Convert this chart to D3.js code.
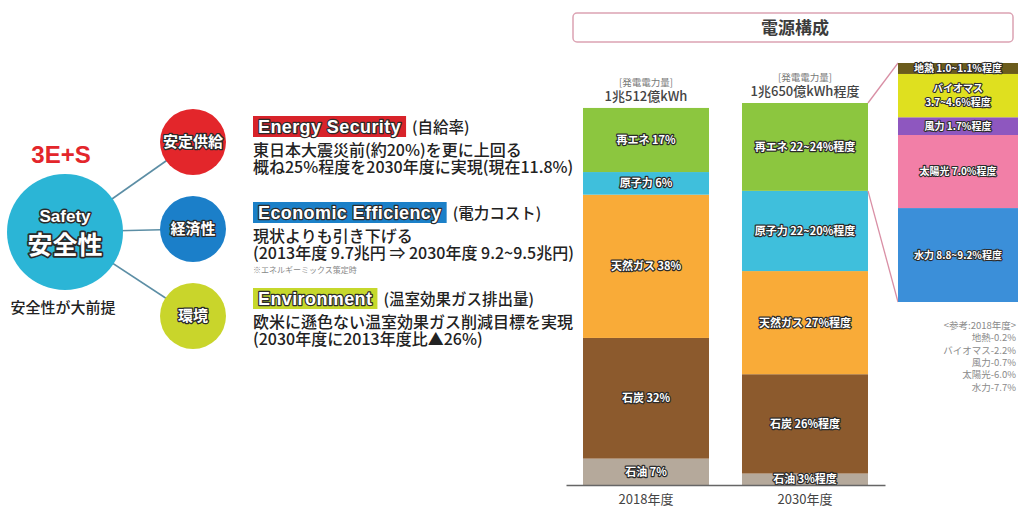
<!DOCTYPE html>
<html>
<head>
<meta charset="utf-8">
<script src="https://cdn.jsdelivr.net/npm/d3@7"></script>
<style>
  html, body { margin: 0; padding: 0; background: #fff; }
  svg { display: block; font-family: "Noto Sans CJK JP", "Noto Sans", sans-serif; }
  .outline { paint-order: stroke; stroke: #2b2b2b; stroke-linejoin: round; fill: #fff; font-weight: bold; }
</style>
</head>
<body>
<svg id="chart" width="1027" height="509"></svg>
<script>
// ---- 3E+S policy pillars ----
const pillarNames   = ["安定供給", "経済性", "環境"];
const pillarColors  = ["#e3262b", "#1b7fc9", "#c9d52b"];
const pillarTitles  = ["Energy Security", "Economic Efficiency", "Environment"];
const pillarTitleBg = ["#d8232a", "#1b80c8", "#c6d82c"];
const pillarSubs    = ["(自給率)", "(電力コスト)", "(温室効果ガス排出量)"];
const pillarLines   = [
  ["東日本大震災前(約20%)を更に上回る", "概ね25%程度を2030年度に実現(現在11.8%)"],
  ["現状よりも引き下げる", "(2013年度 9.7兆円 ⇒ 2030年度 9.2~9.5兆円)"],
  ["欧米に遜色ない温室効果ガス削減目標を実現", "(2030年度に2013年度比▲26%)"]
];
const pillarNote = "※エネルギーミックス策定時";

// ---- power mix (stacked bottom to top) ----
const years        = ["2018年度", "2030年度"];
const totalKWh     = [10512, 10650];               // 億kWh
const totalLabels  = ["1兆512億kWh", "1兆650億kWh程度"];
const sources      = ["石油", "石炭", "天然ガス", "原子力", "再エネ"];
const sourceColors = ["#b5a99b", "#8c5a2d", "#f9ab38", "#3fbfdc", "#8cc63f"];
const share2018    = [7, 32, 38, 6, 17];
const share2030    = [3, 26, 27, 21, 23];
const labels2018   = ["石油 7%", "石炭 32%", "天然ガス 38%", "原子力 6%", "再エネ 17%"];
const labels2030   = ["石油 3%程度", "石炭 26%程度", "天然ガス 27%程度", "原子力 22~20%程度", "再エネ 22~24%程度"];

// ---- 2030 renewables breakdown (stacked bottom to top) ----
const reNames   = ["水力", "太陽光", "風力", "バイオマス", "地熱"];
const reColors  = ["#3b8fd9", "#f27fa7", "#8e57bf", "#dfe01f", "#6b5c1c"];
const reValues  = [9.0, 7.0, 1.7, 4.15, 1.05];
const reLabels  = [["水力 8.8~9.2%程度"], ["太陽光 7.0%程度"], ["風力 1.7%程度"], ["バイオマス", "3.7~4.6%程度"], ["地熱 1.0~1.1%程度"]];
const ref2018   = ["<参考:2018年度>", "地熱-0.2%", "バイオマス-2.2%", "風力-0.7%", "太陽光-6.0%", "水力-7.7%"];

const svg = d3.select("#chart");

// ================= left: 3E+S diagram =================
const big = { x: 65, y: 232, r: 58 };
const smallR = 33;
const smallY = d3.scalePoint().domain(pillarNames).range([142, 316]);
const smallX = 193;

svg.append("text").attr("x", 61).attr("y", 163).attr("text-anchor", "middle")
  .attr("font-size", 24).attr("font-weight", "bold").attr("fill", "#e3262b")
  .attr("font-family", "Liberation Sans, Arial, sans-serif").text("3E+S");

svg.selectAll(".link").data(pillarNames).join("line")
  .attr("x1", big.x).attr("y1", big.y)
  .attr("x2", smallX).attr("y2", d => smallY(d))
  .attr("stroke", "#5c8ea5").attr("stroke-width", 1.6);

svg.append("circle").attr("cx", big.x).attr("cy", big.y).attr("r", big.r).attr("fill", "#2bb5d6");
svg.append("text").attr("class", "outline").attr("x", big.x).attr("y", 222)
  .attr("text-anchor", "middle").attr("font-size", 17).attr("stroke-width", 3)
  .attr("font-family", "Liberation Sans, Arial, sans-serif").text("Safety");
svg.append("text").attr("class", "outline").attr("x", big.x).attr("y", 254)
  .attr("text-anchor", "middle").attr("font-size", 25).attr("stroke-width", 3.5).text("安全性");
svg.append("text").attr("x", 63).attr("y", 313).attr("text-anchor", "middle")
  .attr("font-size", 15).attr("font-weight", 500).attr("fill", "#222").text("安全性が大前提");

const pg = svg.selectAll(".pillar").data(pillarNames).join("g")
  .attr("transform", d => `translate(${smallX},${smallY(d)})`);
pg.append("circle").attr("r", smallR).attr("fill", (d, i) => pillarColors[i]);
pg.append("text").attr("class", "outline").attr("text-anchor", "middle").attr("dy", "0.36em")
  .attr("font-size", 15).attr("stroke-width", 2.6).text(d => d);

// pillar descriptions
const boxTop = [116, 202, 288];
pillarTitles.forEach((t, i) => {
  const g = svg.append("g").attr("transform", `translate(253,${boxTop[i]})`);
  const bg = g.append("rect").attr("height", 21).attr("fill", pillarTitleBg[i]);
  const tt = g.append("text").attr("class", "outline").attr("x", 5).attr("y", 17)
    .attr("font-size", 18).attr("stroke-width", 2.4).attr("letter-spacing", 0.4)
    .attr("font-family", "Liberation Sans, Arial, sans-serif").text(t);
  const w = tt.node().getComputedTextLength() + 10;
  bg.attr("width", w);
  g.append("text").attr("x", w + 6).attr("y", 17).attr("font-size", 15.5).attr("font-weight", 500)
    .attr("fill", "#222").text(pillarSubs[i]);
  pillarLines[i].forEach((line, j) => {
    g.append("text").attr("x", 0).attr("y", 40 + j * 17).attr("font-size", 16)
      .attr("font-weight", 500).attr("fill", "#222").text(line);
  });
  if (i === 1) {
    g.append("text").attr("x", 0).attr("y", 71).attr("font-size", 8).attr("fill", "#888").text(pillarNote);
  }
});

// ================= right: 電源構成 =================
svg.append("rect").attr("x", 573).attr("y", 13).attr("width", 440).attr("height", 29).attr("rx", 4)
  .attr("fill", "#fff").attr("stroke", "#dca3b3").attr("stroke-width", 1.5);
svg.append("text").attr("x", 795).attr("y", 34).attr("text-anchor", "middle")
  .attr("font-size", 17).attr("font-weight", "bold").attr("fill", "#3c3c3c").text("電源構成");

const x = d3.scaleBand().domain(years).range([566, 885]).paddingInner(0.2075).paddingOuter(0.107);
const y = d3.scaleLinear().domain([0, d3.max(totalKWh)]).range([485, 103]);

const shares = [share2018, share2030];
const segLabels = [labels2018, labels2030];

years.forEach((yr, i) => {
  const rows = sources.map((s, k) => ({ source: s, k, value: shares[i][k] / 100 * totalKWh[i], label: segLabels[i][k] }));
  let acc = 0;
  rows.forEach(r => { r.y0 = acc; acc += r.value; r.y1 = acc; });
  const g = svg.append("g");
  g.selectAll("rect").data(rows).join("rect")
    .attr("x", x(yr)).attr("width", x.bandwidth())
    .attr("y", d => y(d.y1)).attr("height", d => y(d.y0) - y(d.y1))
    .attr("fill", d => sourceColors[d.k]);
  g.selectAll("text").data(rows).join("text").attr("class", "outline")
    .attr("x", x(yr) + x.bandwidth() / 2).attr("y", d => (y(d.y0) + y(d.y1)) / 2).attr("dy", "0.36em")
    .attr("text-anchor", "middle").attr("font-size", 11).attr("stroke-width", 2.4)
    .text(d => d.label);
  // total generation above each bar
  const top = y(totalKWh[i]);
  svg.append("text").attr("x", x(yr) + x.bandwidth() / 2).attr("y", top - 22).attr("text-anchor", "middle")
    .attr("font-size", 9.5).attr("fill", "#777").text("[発電電力量]");
  svg.append("text").attr("x", x(yr) + x.bandwidth() / 2).attr("y", top - 7).attr("text-anchor", "middle")
    .attr("font-size", 13).attr("font-weight", 500).attr("fill", "#444").text(totalLabels[i]);
});

// x axis
const xAxis = svg.append("g").attr("transform", "translate(0,485)")
  .call(d3.axisBottom(x).tickSize(0).tickPadding(10));
xAxis.select(".domain").attr("stroke", "#666").attr("stroke-width", 1.5);
xAxis.selectAll("text").attr("font-size", 13).attr("fill", "#444")
  .attr("font-family", "Noto Sans CJK JP, sans-serif");

// renewables breakdown
const reTotal = d3.sum(reValues);
const yRe = d3.scaleLinear().domain([0, reTotal]).range([302, 63]);
const reX = 898, reW = 120;
let racc = 0;
const reRows = reNames.map((n, k) => { const r = { k, y0: racc, y1: racc + reValues[k] }; racc += reValues[k]; return r; });

// connector from 2030 renewables segment to the breakdown
const i30 = 1;
const re30Bottom = y(d3.sum(share2030.slice(0, 4)) / 100 * totalKWh[i30]);
const re30Top = y(totalKWh[i30]);
const barRight = x(years[i30]) + x.bandwidth();
svg.append("line").attr("x1", barRight).attr("y1", re30Top).attr("x2", reX).attr("y2", yRe(reTotal))
  .attr("stroke", "#d98fa5").attr("stroke-width", 1.3);
svg.append("line").attr("x1", barRight).attr("y1", re30Bottom).attr("x2", reX).attr("y2", yRe(0))
  .attr("stroke", "#d98fa5").attr("stroke-width", 1.3);

svg.selectAll(".re").data(reRows).join("rect")
  .attr("x", reX).attr("width", reW)
  .attr("y", d => yRe(d.y1)).attr("height", d => yRe(d.y0) - yRe(d.y1))
  .attr("fill", d => reColors[d.k]);
reRows.forEach(d => {
  const lines = reLabels[d.k];
  const cy = (yRe(d.y0) + yRe(d.y1)) / 2;
  lines.forEach((l, j) => {
    svg.append("text").attr("class", "outline").attr("x", reX + reW / 2)
      .attr("y", cy + (j - (lines.length - 1) / 2) * 14).attr("dy", "0.36em")
      .attr("text-anchor", "middle").attr("font-size", 10).attr("stroke-width", 2.2).text(l);
  });
});

// 2018 reference values
svg.selectAll(".ref").data(ref2018).join("text")
  .attr("x", 1016).attr("y", (d, j) => 329 + j * 12.3).attr("text-anchor", "end")
  .attr("font-size", 9.5).attr("fill", "#8a8a8a").text(d => d);
</script>
</body>
</html>
